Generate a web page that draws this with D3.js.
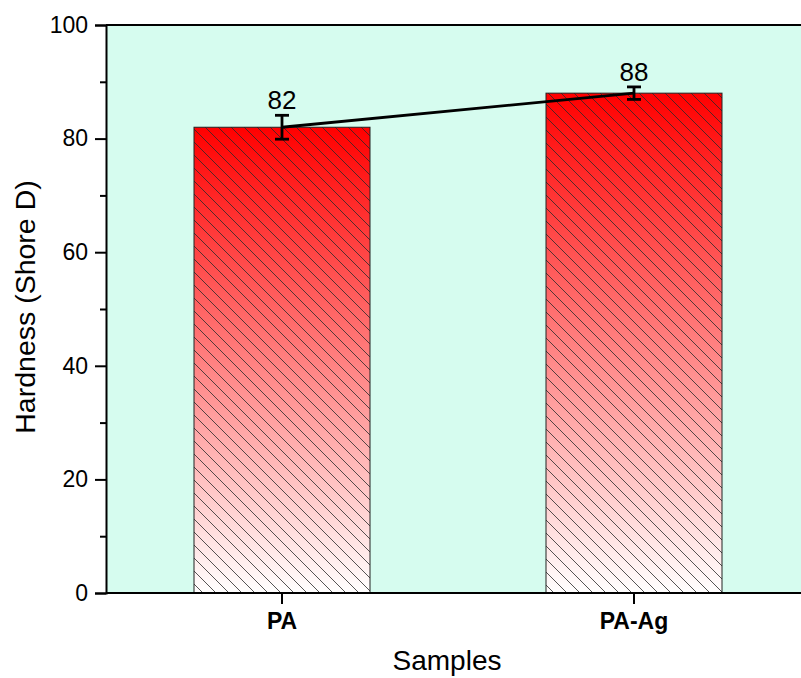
<!DOCTYPE html>
<html><head><meta charset="utf-8">
<script src="https://cdn.jsdelivr.net/npm/d3@7"></script>
<style>body{margin:0;background:#fff}svg{display:block}text{font-family:"Liberation Sans",Arial,sans-serif}</style>
</head><body><svg id="c" width="801" height="678"></svg>
<script>
const categories = ["PA", "PA-Ag"];
const hardness = [82, 88];
const errors = [2.1, 1.1];
const yTicks = [0, 20, 40, 60, 80, 100];
const yMinorTicks = [10, 30, 50, 70, 90];

const svg = d3.select("#c");
const L = 106, R = 810, T = 25, B = 593;
const x = d3.scaleBand().domain(categories).range([L, R]).paddingInner(0.5).paddingOuter(0.25);
const y = d3.scaleLinear().domain([0, 100]).range([B, T]);

const defs = svg.append("defs");
const grad = defs.append("linearGradient").attr("id", "g").attr("x1", 0).attr("y1", 0).attr("x2", 0).attr("y2", 1);
grad.append("stop").attr("offset", 0).attr("stop-color", "#ff0000");
grad.append("stop").attr("offset", 1).attr("stop-color", "#ffffff");
const pat = defs.append("pattern").attr("id", "h").attr("patternUnits", "userSpaceOnUse").attr("width", 13).attr("height", 13);
pat.append("path").attr("d", "M0,0L13,13M-2,11L2,15M11,-2L15,2").attr("stroke", "#2a2a2a").attr("stroke-width", 0.8).attr("fill", "none");

svg.append("rect").attr("x", L).attr("y", T).attr("width", R - L).attr("height", B - T).attr("fill", "#d6fcef");

const bars = svg.append("g");
categories.forEach((c, i) => {
  const bx = x(c), by = y(hardness[i]), bw = x.bandwidth(), bh = y(0) - y(hardness[i]);
  bars.append("rect").attr("x", bx).attr("y", by).attr("width", bw).attr("height", bh).attr("fill", "url(#g)");
  bars.append("rect").attr("x", bx).attr("y", by).attr("width", bw).attr("height", bh).attr("fill", "url(#h)")
    .attr("stroke", "#222").attr("stroke-width", 1);
});

// connecting line
const cx = c => x(c) + x.bandwidth() / 2;
svg.append("path").datum(categories.map((c, i) => [cx(c), y(hardness[i])]))
  .attr("d", d3.line()).attr("stroke", "#000").attr("stroke-width", 2.8).attr("fill", "none");

// error bars
categories.forEach((c, i) => {
  const g = svg.append("g").attr("stroke", "#000").attr("stroke-width", 2.8);
  const px = cx(c);
  g.append("line").attr("x1", px).attr("x2", px).attr("y1", y(hardness[i] + errors[i])).attr("y2", y(hardness[i] - errors[i]));
  [1, -1].forEach(s => g.append("line").attr("x1", px - 7).attr("x2", px + 7)
    .attr("y1", y(hardness[i] + s * errors[i])).attr("y2", y(hardness[i] + s * errors[i])));
  svg.append("text").attr("x", px).attr("y", y(hardness[i] + errors[i]) - 6).attr("text-anchor", "middle")
    .attr("font-size", 26).attr("fill", "#000").text(hardness[i]);
});

// top border
svg.append("line").attr("x1", L).attr("x2", R).attr("y1", T).attr("y2", T).attr("stroke", "#000").attr("stroke-width", 2);

// y axis
const ya = svg.append("g").attr("transform", `translate(${L},0)`)
  .call(d3.axisLeft(y).tickValues(yTicks).tickSize(11).tickPadding(7));
ya.selectAll(".tick line").attr("stroke-width", 2);
ya.selectAll("text").attr("font-size", 23).attr("font-family", "Liberation Sans, Arial").attr("fill", "#000");
ya.select(".domain").attr("stroke-width", 2);
const ym = svg.append("g").attr("transform", `translate(${L},0)`).call(d3.axisLeft(y).tickValues(yMinorTicks).tickSize(6).tickFormat(""));
ym.select(".domain").remove();
ym.selectAll(".tick line").attr("stroke-width", 2);

// x axis
const xa = svg.append("g").attr("transform", `translate(0,${B})`)
  .call(d3.axisBottom(x).tickSize(11).tickPadding(9));
xa.select(".domain").attr("stroke-width", 2).attr("d", `M${L},0H${R}`);
xa.selectAll(".tick line").attr("stroke-width", 2);
xa.selectAll("text").attr("font-size", 23).attr("font-weight", "bold").attr("font-family", "Liberation Sans, Arial").attr("fill", "#000");

svg.append("text").attr("x", 447).attr("y", 670).attr("text-anchor", "middle").attr("font-size", 28).text("Samples");
svg.append("text").attr("transform", `translate(35,${(T + B) / 2 - 2}) rotate(-90)`).attr("text-anchor", "middle")
  .attr("font-size", 28.5).text("Hardness (Shore D)");
</script></body></html>
